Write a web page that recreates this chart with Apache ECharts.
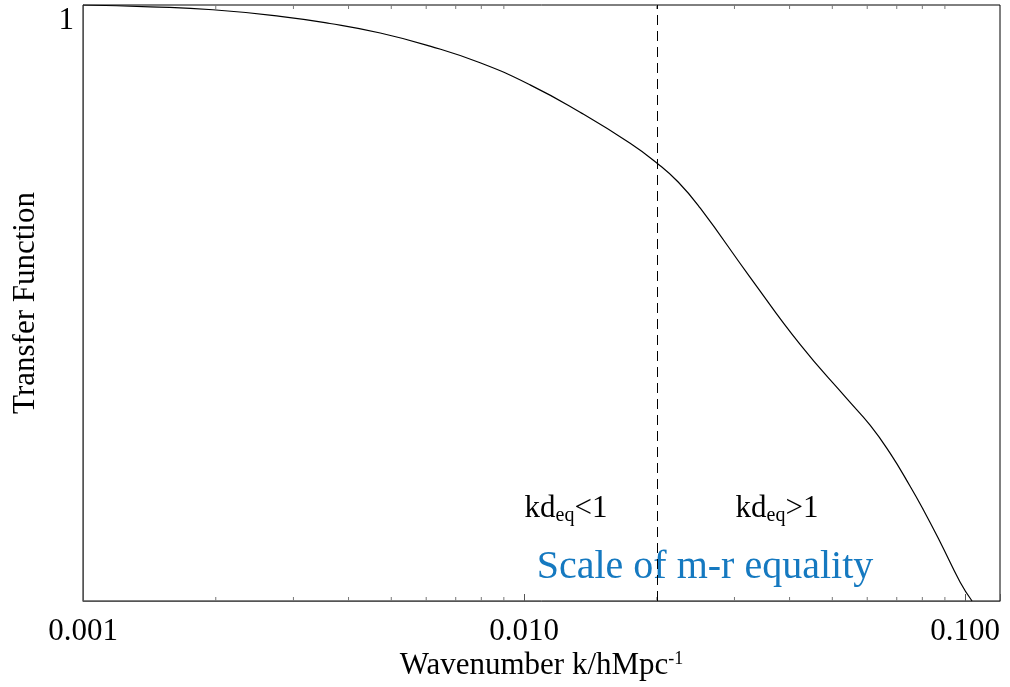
<!DOCTYPE html>
<html>
<head>
<meta charset="utf-8">
<script src="https://cdn.jsdelivr.net/npm/echarts@6/dist/echarts.min.js"></script>
<style>
  html, body { margin: 0; padding: 0; background: #fff; }
  #chart { width: 1010px; height: 687px; }
</style>
</head>
<body>
<div id="chart"></div>
<script>
// wavenumber k (h/Mpc) and transfer function
const kValues = [0.001, 0.00142, 0.00197, 0.0028, 0.00363, 0.00472, 0.00612, 0.00795,
  0.01032, 0.0134, 0.0174, 0.02, 0.02236, 0.0251, 0.0325, 0.0423, 0.054, 0.0609, 0.0676,
  0.075, 0.0803, 0.0878, 0.0974, 0.1037];
const transfer = [1.0, 0.997, 0.992, 0.981, 0.969, 0.953, 0.931, 0.903,
  0.866, 0.820, 0.768, 0.735, 0.703, 0.659, 0.544, 0.430, 0.339, 0.295, 0.248,
  0.193, 0.154, 0.099, 0.032, 0.0];
const kEquality = 0.02;
const minorTicks = [];
[0.001, 0.01].forEach(d => {
  for (let m = 2; m <= 9; m++) minorTicks.push(+(d * m).toPrecision(3));
});

const serif = 'Liberation Serif, Times New Roman, serif';
const chart = echarts.init(document.getElementById('chart'));

const tickSeries = (yVal, dir) => ({
  type: 'custom',
  silent: true,
  clip: false,
  z: 1,
  data: minorTicks,
  renderItem: (params, api) => {
    const p = api.coord([api.value(0), yVal]);
    return {
      type: 'line',
      shape: { x1: p[0], y1: p[1], x2: p[0], y2: p[1] + dir * 4 },
      style: { stroke: '#777', lineWidth: 1 }
    };
  }
});

const kdStyle = (text) => ({
  text: text, fontFamily: serif, fontSize: 31, fill: '#000',
  align: 'center', verticalAlign: 'middle',
  rich: { sub: { fontFamily: serif, fontSize: 20, fill: '#000', padding: [14, 0, 0, 0] } }
});

chart.setOption({
  animation: false,
  grid: {
    left: 83, top: 5, right: 10, bottom: 86,
    containLabel: false, outerBoundsMode: 'none',
    show: true, borderColor: '#000', borderWidth: 1
  },
  xAxis: {
    type: 'log',
    min: 0.001,
    max: 0.12,
    name: 'Wavenumber k/hMpc{sup|-1}',
    nameLocation: 'middle',
    nameMoveOverlap: false,
    nameGap: 49,
    nameTextStyle: {
      fontFamily: serif, fontSize: 31, color: '#000',
      rich: { sup: { fontFamily: serif, fontSize: 18, color: '#000', verticalAlign: 'top', padding: [0, 0, 14, 0] } }
    },
    axisLine: { lineStyle: { color: '#555', width: 1 } },
    axisTick: { inside: true, length: 7, lineStyle: { color: '#555' } },
    splitLine: { show: false },
    axisLabel: {
      fontFamily: serif, fontSize: 31, color: '#000', margin: 15,
      formatter: v => {
        const l = Math.log10(v);
        return Math.abs(l - Math.round(l)) < 1e-6 ? v.toFixed(3) : '';
      }
    }
  },
  yAxis: {
    type: 'value',
    min: 0,
    max: 1,
    interval: 1,
    name: 'Transfer Function',
    nameLocation: 'middle',
    nameMoveOverlap: false,
    nameGap: 42,
    nameTextStyle: { fontFamily: serif, fontSize: 31, color: '#000' },
    axisLine: { show: true, lineStyle: { color: '#555' } },
    axisTick: { show: false },
    splitLine: { show: false },
    axisLabel: {
      fontFamily: serif, fontSize: 31, color: '#000', margin: 9,
      formatter: v => (v === 1 ? '1' : ''),
      verticalAlign: 'top'
    }
  },
  graphic: [
    { type: 'text', x: 566, y: 509, style: kdStyle('kd{sub|eq}<1') },
    { type: 'text', x: 777, y: 509, style: kdStyle('kd{sub|eq}>1') },
    {
      type: 'text', x: 705, y: 567,
      style: {
        text: 'Scale of m-r equality', fontFamily: serif, fontSize: 40, fill: '#1579c0',
        align: 'center', verticalAlign: 'middle'
      }
    }
  ],
  series: [
    {
      type: 'line',
      data: kValues.map((k, i) => [k, transfer[i]]),
      showSymbol: false,
      smooth: 0.5,
      lineStyle: { color: '#000', width: 1.2 },
      markLine: {
        silent: true,
        symbol: 'none',
        label: { show: false },
        lineStyle: { color: '#000', width: 1, type: [10, 6] },
        data: [{ xAxis: kEquality }]
      }
    },
    tickSeries(0, -1),
    tickSeries(1, 1)
  ]
});
</script>
</body>
</html>
